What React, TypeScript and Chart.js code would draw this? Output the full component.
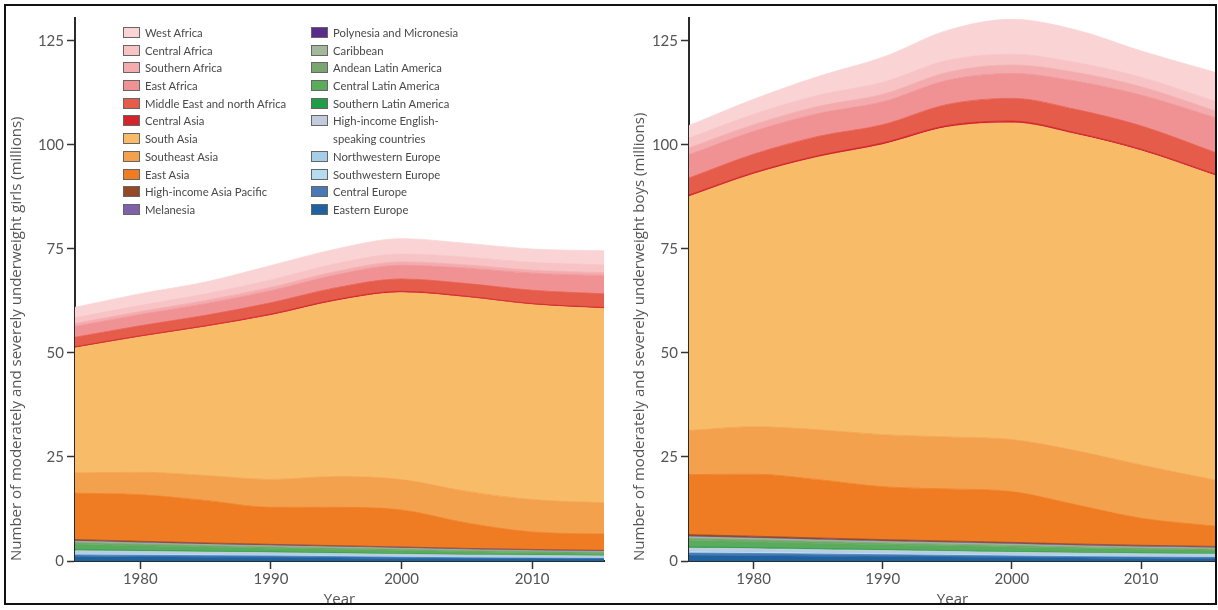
import React, { useEffect, useRef } from "react";
import { Chart, registerables } from "chart.js";

Chart.register(...registerables);

// ---------- data ----------
const years = [1975, 1980, 1985, 1990, 1995, 2000, 2005, 2010, 2016];
const xTicks = [1980, 1990, 2000, 2010];
const yTicks = [0, 25, 50, 75, 100, 125];

// legend order (top of stack first)
const regions = [
  "West Africa",
  "Central Africa",
  "Southern Africa",
  "East Africa",
  "Middle East and north Africa",
  "Central Asia",
  "South Asia",
  "Southeast Asia",
  "East Asia",
  "High-income Asia Pacific",
  "Melanesia",
  "Polynesia and Micronesia",
  "Caribbean",
  "Andean Latin America",
  "Central Latin America",
  "Southern Latin America",
  "High-income English-speaking countries",
  "Northwestern Europe",
  "Southwestern Europe",
  "Central Europe",
  "Eastern Europe",
];

const regionColors = [
  "#fad4d5",
  "#f7c3c4",
  "#f3abae",
  "#f09294",
  "#e65c4b",
  "#d3232b",
  "#f8bc68",
  "#f4a14e",
  "#ef7c22",
  "#944826",
  "#7d62a8",
  "#5a2d8a",
  "#a2b89b",
  "#79a571",
  "#5aab5b",
  "#1f9d48",
  "#c1cbdb",
  "#a8cde6",
  "#b6dcef",
  "#4a78b5",
  "#1f62a0",
];

// girls (millions)
const girlsWestAfrica = [2.5, 2.8, 2.85, 3.45, 3.5, 3.7, 3.3, 3.2, 3.4];
const girlsCentralAfrica = [1.4, 1.5, 1.6, 1.8, 1.9, 1.9, 1.9, 1.9, 1.9];
const girlsSouthernAfrica = [0.7, 0.7, 0.75, 0.8, 0.8, 0.8, 0.75, 0.7, 0.7];
const girlsEastAfrica = [2.6, 2.7, 2.8, 2.9, 3.1, 3.3, 3.7, 4.1, 4.4];
const girlsMENA = [2.3, 2.4, 2.5, 2.7, 2.85, 2.95, 3.05, 3.2, 3.3];
const girlsCentralAsia = [0.3, 0.3, 0.3, 0.35, 0.35, 0.35, 0.3, 0.3, 0.3];
const girlsSouthAsia = [30.0, 32.5, 35.7, 39.4, 42.2, 44.9, 46.6, 46.8, 46.6];
const girlsSoutheastAsia = [4.9, 5.4, 6.0, 6.7, 7.4, 7.3, 7.6, 7.8, 7.5];
const girlsEastAsia = [11.1, 11.2, 10.2, 8.9, 9.2, 8.9, 6.1, 4.2, 3.9];
const girlsHIAsiaPacific = [0.35, 0.32, 0.3, 0.27, 0.25, 0.23, 0.21, 0.19, 0.17];
const girlsMelanesia = [0.05, 0.05, 0.06, 0.06, 0.07, 0.07, 0.08, 0.08, 0.09];
const girlsPolynesia = [0.02, 0.02, 0.02, 0.02, 0.02, 0.02, 0.02, 0.02, 0.02];
const girlsCaribbean = [0.3, 0.28, 0.27, 0.26, 0.25, 0.24, 0.23, 0.22, 0.21];
const girlsAndean = [0.45, 0.4, 0.36, 0.32, 0.3, 0.27, 0.24, 0.21, 0.19];
const girlsCentralLatin = [1.3, 1.15, 1.0, 0.9, 0.85, 0.8, 0.7, 0.62, 0.55];
const girlsSouthernLatin = [0.25, 0.22, 0.2, 0.18, 0.16, 0.14, 0.12, 0.1, 0.09];
const girlsHIEnglish = [0.45, 0.43, 0.4, 0.38, 0.36, 0.35, 0.33, 0.32, 0.3];
const girlsNWEurope = [0.3, 0.28, 0.26, 0.24, 0.22, 0.2, 0.19, 0.18, 0.17];
const girlsSWEurope = [0.25, 0.22, 0.2, 0.18, 0.16, 0.15, 0.14, 0.13, 0.12];
const girlsCentralEurope = [0.45, 0.42, 0.38, 0.35, 0.3, 0.25, 0.22, 0.2, 0.18];
const girlsEasternEurope = [1.0, 0.95, 0.9, 0.85, 0.75, 0.65, 0.55, 0.5, 0.45];

// boys (millions)
const boysWestAfrica = [3.0, 3.6, 4.5, 6.0, 7.2, 8.4, 7.8, 6.3, 7.0];
const boysCentralAfrica = [2.4, 2.5, 2.7, 2.9, 2.9, 2.6, 2.4, 2.3, 2.3];
const boysSouthernAfrica = [1.6, 1.6, 1.7, 1.8, 1.9, 2.0, 2.1, 2.0, 1.6];
const boysEastAfrica = [5.6, 5.5, 5.5, 5.5, 5.8, 6.0, 6.8, 7.4, 8.4];
const boysMENA = [4.1, 4.4, 4.6, 4.35, 5.05, 5.45, 5.6, 5.6, 5.2];
const boysCentralAsia = [0.4, 0.4, 0.4, 0.45, 0.45, 0.45, 0.4, 0.4, 0.4];
const boysSouthAsia = [56.2, 60.7, 65.5, 69.7, 74.4, 76.1, 76.0, 75.5, 73.0];
const boysSoutheastAsia = [10.6, 11.4, 12.0, 12.5, 12.5, 12.5, 13.0, 12.8, 11.0];
const boysEastAsia = [14.4, 14.9, 14.0, 12.7, 12.5, 12.2, 9.4, 6.5, 4.8];
const boysHIAsiaPacific = [0.45, 0.42, 0.4, 0.37, 0.34, 0.31, 0.28, 0.26, 0.24];
const boysMelanesia = [0.07, 0.07, 0.08, 0.08, 0.09, 0.1, 0.1, 0.11, 0.12];
const boysPolynesia = [0.03, 0.03, 0.03, 0.03, 0.03, 0.03, 0.03, 0.03, 0.03];
const boysCaribbean = [0.35, 0.34, 0.33, 0.32, 0.31, 0.3, 0.29, 0.28, 0.27];
const boysAndean = [0.55, 0.5, 0.45, 0.42, 0.4, 0.37, 0.33, 0.3, 0.27];
const boysCentralLatin = [1.5, 1.4, 1.3, 1.2, 1.15, 1.1, 1.0, 0.9, 0.8];
const boysSouthernLatin = [0.3, 0.27, 0.24, 0.22, 0.2, 0.18, 0.16, 0.14, 0.13];
const boysHIEnglish = [0.55, 0.53, 0.5, 0.48, 0.46, 0.44, 0.42, 0.4, 0.38];
const boysNWEurope = [0.35, 0.33, 0.31, 0.29, 0.27, 0.25, 0.24, 0.23, 0.22];
const boysSWEurope = [0.3, 0.28, 0.26, 0.24, 0.22, 0.2, 0.19, 0.18, 0.17];
const boysCentralEurope = [0.6, 0.55, 0.5, 0.45, 0.4, 0.35, 0.3, 0.27, 0.25];
const boysEasternEurope = [1.3, 1.25, 1.15, 1.05, 0.95, 0.85, 0.75, 0.68, 0.62];

const girlsSeries = [
  girlsWestAfrica, girlsCentralAfrica, girlsSouthernAfrica, girlsEastAfrica,
  girlsMENA, girlsCentralAsia, girlsSouthAsia, girlsSoutheastAsia, girlsEastAsia,
  girlsHIAsiaPacific, girlsMelanesia, girlsPolynesia, girlsCaribbean, girlsAndean,
  girlsCentralLatin, girlsSouthernLatin, girlsHIEnglish, girlsNWEurope,
  girlsSWEurope, girlsCentralEurope, girlsEasternEurope,
];
const boysSeries = [
  boysWestAfrica, boysCentralAfrica, boysSouthernAfrica, boysEastAfrica,
  boysMENA, boysCentralAsia, boysSouthAsia, boysSoutheastAsia, boysEastAsia,
  boysHIAsiaPacific, boysMelanesia, boysPolynesia, boysCaribbean, boysAndean,
  boysCentralLatin, boysSouthernLatin, boysHIEnglish, boysNWEurope,
  boysSWEurope, boysCentralEurope, boysEasternEurope,
];

// ---------- chart ----------
const FONT = "Lato, 'Open Sans', sans-serif";
const TITLE_FONT = "'Open Sans', Lato, sans-serif";
const TEXT = "#555";

type PanelProps = {
  series: number[][];
  yTitle: string;
  width: number;
  xMax: number;
  yWidth: number;
  titleOffset: number;
  padRight: number;
};

function buildConfig(p: PanelProps): any {
  const datasets = [];
  for (let i = regions.length - 1; i >= 0; i--) {
    const idx = regions.length - 1 - i;
    datasets.push({
      label: regions[i],
      data: years.map((yr, k) => ({ x: yr, y: p.series[i][k] })),
      backgroundColor: regionColors[i],
      borderColor: regionColors[i],
      borderWidth: 0.8,
      fill: idx === 0 ? "origin" : "-1",
      pointRadius: 0,
      cubicInterpolationMode: "monotone",
      clip: 0,
    });
  }
  const tickFont = { family: FONT, size: 15 };
  return {
    type: "line",
    data: { datasets },
    options: {
      animation: false,
      responsive: false,
      events: [],
      layout: { padding: { top: 18, right: p.padRight, left: 0, bottom: 0 } },
      plugins: { legend: { display: false }, tooltip: { enabled: false } },
      scales: {
        x: {
          type: "linear",
          min: 1975,
          max: p.xMax,
          afterBuildTicks: (s: any) => {
            s.ticks = xTicks.map((v) => ({ value: v }));
          },
          afterFit: (s: any) => {
            s.height = 49;
          },
          ticks: {
            callback: (v: any) => String(v),
            font: tickFont,
            color: TEXT,
            padding: 1,
            maxRotation: 0,
            autoSkip: false,
          },
          grid: {
            display: true,
            drawOnChartArea: false,
            drawTicks: true,
            tickLength: 8,
            tickColor: "#333",
            tickWidth: 1.5,
          },
          border: { display: true, color: "#2a2a2a", width: 2 },
          title: {
            display: true,
            text: "Year",
            font: { family: TITLE_FONT, size: 15 },
            color: TEXT,
            padding: { top: 0, bottom: 1 },
          },
        },
        y: {
          type: "linear",
          stacked: true,
          min: 0,
          max: 130.5,
          afterBuildTicks: (s: any) => {
            s.ticks = yTicks.map((v) => ({ value: v }));
          },
          afterFit: (s: any) => {
            s.width = p.yWidth;
          },
          ticks: {
            font: tickFont,
            color: TEXT,
            padding: 3,
            autoSkip: false,
          },
          grid: {
            display: true,
            drawOnChartArea: false,
            drawTicks: true,
            tickLength: 8,
            tickColor: "#333",
            tickWidth: 1.5,
          },
          border: { display: true, color: "#2a2a2a", width: 2 },
          title: {
            display: true,
            text: p.yTitle,
            align: "start",
            font: { family: TITLE_FONT, size: 15 },
            color: TEXT,
            padding: { top: p.titleOffset - 9, bottom: 0 },
          },
        },
      },
    },
  };
}

function Panel(p: PanelProps & { left: number }) {
  const ref = useRef<HTMLCanvasElement | null>(null);
  useEffect(() => {
    if (!ref.current) return;
    const chart = new Chart(ref.current, buildConfig(p));
    return () => chart.destroy();
  }, []);
  return (
    <canvas
      ref={ref}
      width={p.width}
      height={610}
      style={{ position: "absolute", left: p.left, top: 0, width: p.width, height: 610 }}
    />
  );
}

function Legend() {
  const col1 = regions.slice(0, 11);
  const col2 = regions.slice(11);
  const renderCol = (items: string[], offset: number, left: number) => (
    <div style={{ position: "absolute", left, top: 24, width: 190 }}>
      {items.map((name, j) => (
        <div
          key={name}
          style={{
            display: "flex",
            alignItems: "flex-start",
            height: name.includes("English-") ? 35.4 : 17.7,
          }}
        >
          <span
            style={{
              width: 17,
              height: 11,
              marginTop: 3,
              boxSizing: "border-box",
              border: "1px solid #666",
              background: regionColors[offset + j],
              flex: "none",
            }}
          />
          <span style={{ marginLeft: 5, whiteSpace: "pre" }}>
            {name.replace("English-", "English-\n")}
          </span>
        </div>
      ))}
    </div>
  );
  return (
    <div
      style={{
        position: "absolute",
        left: 0,
        top: 0,
        fontFamily: FONT,
        fontSize: 11.3,
        lineHeight: "17.7px",
        color: "#484848",
      }}
    >
      {renderCol(col1, 0, 123)}
      {renderCol(col2, 11, 311)}
    </div>
  );
}

export default function App() {
  return (
    <div
      style={{
        position: "fixed",
        left: 0,
        top: 0,
        width: 1218,
        height: 610,
        background: "#fff",
        overflow: "hidden",
      }}
    >
      <Panel
        left={0}
        width={620}
        series={girlsSeries}
        yTitle="Number of moderately and severely underweight girls (millions)"
        xMax={2015.5}
        yWidth={75}
        titleOffset={17}
        padRight={16}
      />
      <Panel
        left={620}
        width={598}
        series={boysSeries}
        yTitle="Number of moderately and severely underweight boys (millions)"
        xMax={2015.8}
        yWidth={69}
        titleOffset={20}
        padRight={2}
      />
      <Legend />
      <div
        style={{
          position: "absolute",
          left: 4,
          top: 4,
          width: 1213,
          height: 601,
          boxSizing: "border-box",
          border: "2px solid #111",
          pointerEvents: "none",
        }}
      />
    </div>
  );
}
